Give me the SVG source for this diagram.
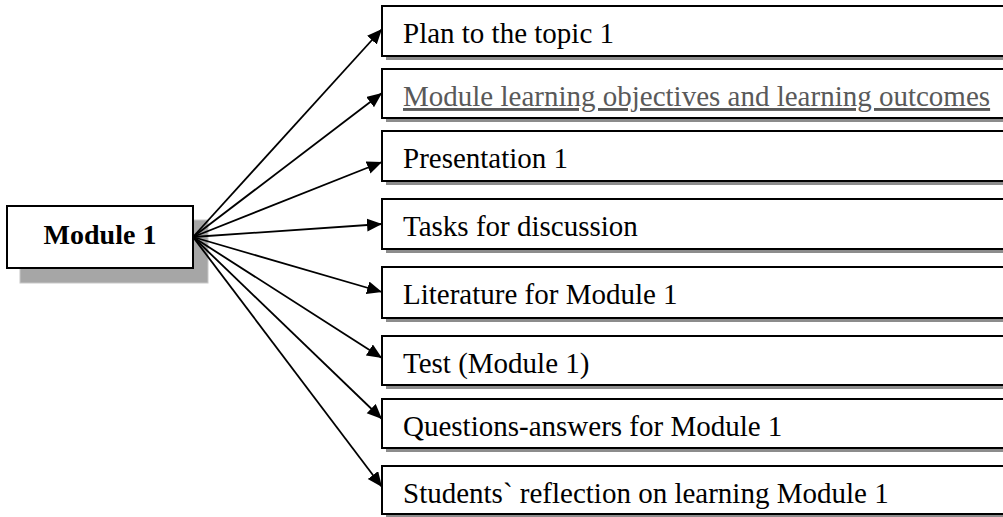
<svg xmlns="http://www.w3.org/2000/svg" width="1003" height="517" viewBox="0 0 1003 517">
<defs>
<style>
.box{fill:#fff;stroke:#000;stroke-width:2}
.sh{fill:#8c8c8c}
.msh{fill:#a6a6a6;stroke:#c8c8c8;stroke-width:1}
.t{font-family:"Liberation Serif","Times New Roman",serif;font-size:29px;fill:#000}
.tg{fill:#595959;text-decoration:underline}
.tb{font-weight:bold;font-size:28px}
.c{stroke:#000;stroke-width:1.8;fill:none;marker-end:url(#ah)}
</style>
<marker id="ah" markerUnits="userSpaceOnUse" markerWidth="17" markerHeight="14" refX="15" refY="6.5" orient="auto">
<path d="M0,0 L15,6.5 L0,13 Z" fill="#000"/>
</marker>
</defs>
<g id="module1">
<rect class="msh" x="20" y="220" width="188" height="63"/>
<rect class="box" x="7" y="206" width="186" height="62"/>
<text class="t tb" x="100" y="244" text-anchor="middle">Module 1</text>
</g>
<g id="connectors">
<line class="c" x1="193" y1="237" x2="382" y2="29"/>
<line class="c" x1="193" y1="237" x2="382" y2="93"/>
<line class="c" x1="193" y1="237" x2="382" y2="162"/>
<line class="c" x1="193" y1="237" x2="382" y2="224"/>
<line class="c" x1="193" y1="237" x2="382" y2="292"/>
<line class="c" x1="193" y1="237" x2="382" y2="358"/>
<line class="c" x1="193" y1="237" x2="382" y2="419"/>
<line class="c" x1="193" y1="237" x2="382" y2="487"/>
</g>
<g id="n1"><rect class="sh" x="386" y="10" width="640" height="50"/><rect class="box" x="382" y="6" width="640" height="50"/><text class="t" x="403" y="43">Plan to the topic 1</text></g>
<g id="n2"><rect class="sh" x="386" y="73" width="640" height="49"/><rect class="box" x="382" y="69" width="640" height="49"/><text class="t tg" x="403" y="106">Module learning objectives and learning outcomes</text></g>
<g id="n3"><rect class="sh" x="386" y="135" width="640" height="50"/><rect class="box" x="382" y="131" width="640" height="50"/><text class="t" x="403" y="168">Presentation 1</text></g>
<g id="n4"><rect class="sh" x="386" y="203" width="640" height="50"/><rect class="box" x="382" y="199" width="640" height="50"/><text class="t" x="403" y="236">Tasks for discussion</text></g>
<g id="n5"><rect class="sh" x="386" y="271" width="640" height="51"/><rect class="box" x="382" y="267" width="640" height="51"/><text class="t" x="403" y="304">Literature for Module 1</text></g>
<g id="n6"><rect class="sh" x="386" y="340" width="640" height="49"/><rect class="box" x="382" y="336" width="640" height="49"/><text class="t" x="403" y="373">Test (Module 1)</text></g>
<g id="n7"><rect class="sh" x="386" y="403" width="640" height="49"/><rect class="box" x="382" y="399" width="640" height="49"/><text class="t" x="403" y="436">Questions-answers for Module 1</text></g>
<g id="n8"><rect class="sh" x="386" y="470" width="640" height="49"/><rect class="box" x="382" y="466" width="640" height="48"/><text class="t" x="403" y="503">Students` reflection on learning Module 1</text></g>
</svg>
